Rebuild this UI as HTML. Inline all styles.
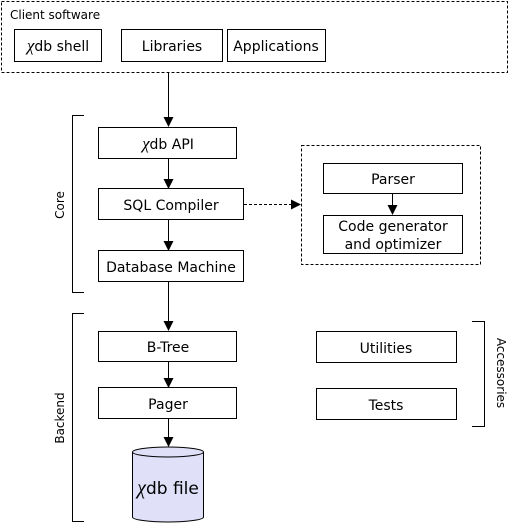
<!DOCTYPE html>
<html><head><meta charset="utf-8"><style>
html,body{margin:0;padding:0;background:#fff;}
svg{display:block;}
text{font-family:"DejaVu Sans","Liberation Sans",sans-serif;fill:#000;}
</style></head><body>
<svg width="516" height="524" viewBox="0 0 516 524" xmlns="http://www.w3.org/2000/svg">
<defs>
<marker id="a" markerWidth="10" markerHeight="10" refX="9" refY="5" orient="auto" markerUnits="userSpaceOnUse">
<path d="M0,0 L10,5 L0,10 z" fill="#000"/>
</marker>
</defs>
<g fill="none" stroke="#000" stroke-width="1">
<rect x="1.5" y="1.5" width="506" height="71" stroke-dasharray="3,2"/>
<rect x="14.5" y="29.5" width="87" height="32"/>
<rect x="121.5" y="29.5" width="101" height="32"/>
<rect x="227.5" y="29.5" width="98" height="32"/>
<line x1="168.5" y1="73" x2="168.5" y2="126" marker-end="url(#a)"/>
<polyline points="84,115.5 72.5,115.5 72.5,292.5 84,292.5"/>
<rect x="98.5" y="127.5" width="138" height="31"/>
<line x1="168.5" y1="159" x2="168.5" y2="188" marker-end="url(#a)"/>
<rect x="98.5" y="188.5" width="145" height="31"/>
<line x1="168.5" y1="220" x2="168.5" y2="250" marker-end="url(#a)"/>
<rect x="98.5" y="250.5" width="145" height="31"/>
<line x1="168.5" y1="282" x2="168.5" y2="330" marker-end="url(#a)"/>
<line x1="244" y1="204.5" x2="300" y2="204.5" stroke-dasharray="3,2" marker-end="url(#a)"/>
<rect x="301.5" y="145.5" width="179" height="119" stroke-dasharray="3,2"/>
<rect x="323.5" y="163.5" width="139" height="30"/>
<line x1="392.5" y1="194" x2="392.5" y2="214" marker-end="url(#a)"/>
<rect x="323.5" y="215.5" width="139" height="38"/>
<polyline points="84,313.5 72.5,313.5 72.5,521.5 84,521.5"/>
<rect x="98.5" y="331.5" width="138" height="30"/>
<line x1="168.5" y1="362" x2="168.5" y2="387" marker-end="url(#a)"/>
<rect x="98.5" y="387.5" width="138" height="31"/>
<line x1="168.5" y1="419" x2="168.5" y2="446" marker-end="url(#a)"/>
<path d="M132.5,452 L132.5,517 A35.5,5 0 0 0 203.5,517 L203.5,452" fill="#e0e0f8"/>
<ellipse cx="168" cy="452" rx="35.5" ry="5" fill="#e0e0f8"/>
<rect x="316.5" y="331.5" width="140" height="31"/>
<rect x="316.5" y="388.5" width="140" height="31"/>
<polyline points="472,321.5 484.5,321.5 484.5,426.5 472,426.5"/>
</g>
<g font-size="14" text-anchor="middle">
<text x="10" y="19" font-size="12" text-anchor="start">Client software</text>
<text x="58" y="51"><tspan font-family="Liberation Serif" font-style="italic" font-size="17">χ</tspan>db shell</text>
<text x="172" y="51">Libraries</text>
<text x="276" y="51">Applications</text>
<text x="168" y="149"><tspan font-family="Liberation Serif" font-style="italic" font-size="17">χ</tspan>db  API</text>
<text x="171" y="210">SQL Compiler</text>
<text x="171" y="272">Database Machine</text>
<text x="393" y="184">Parser</text>
<text x="393" y="231">Code generator</text>
<text x="393" y="249">and optimizer</text>
<text x="168" y="352">B-Tree</text>
<text x="168" y="409">Pager</text>
<text x="168" y="494" font-size="17"><tspan font-family="Liberation Serif" font-style="italic" font-size="20">χ</tspan>db file</text>
<text x="386" y="353">Utilities</text>
<text x="386" y="410">Tests</text>
<text transform="translate(64,205) rotate(-90)" font-size="12">Core</text>
<text transform="translate(64,418) rotate(-90)" font-size="12">Backend</text>
<text transform="translate(497,373) rotate(90)" font-size="12">Accessories</text>
</g>
</svg>
</body></html>
